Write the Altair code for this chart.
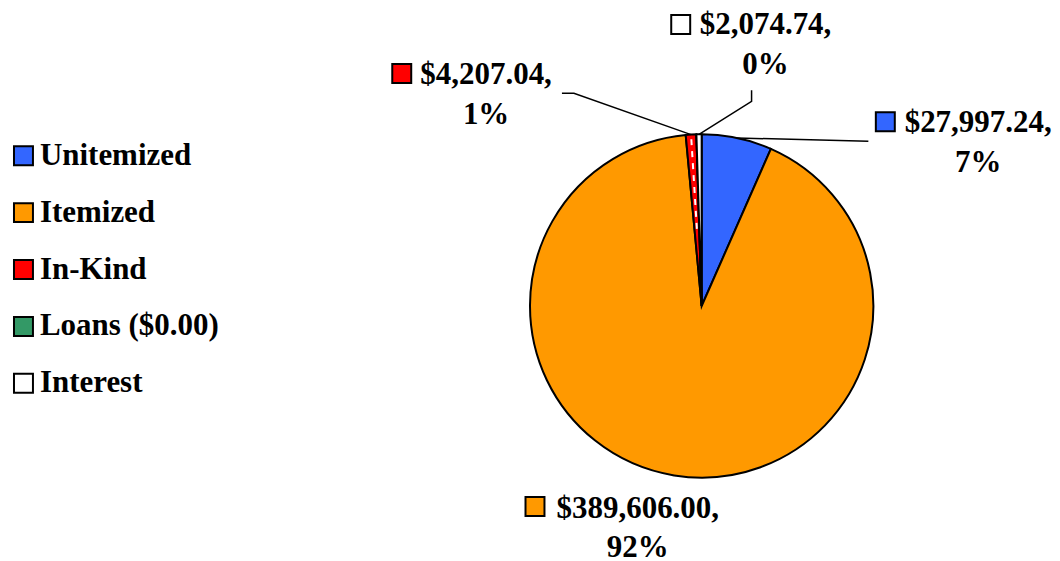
import math
import altair as alt
import pandas as pd

# ---- data ----
categories = ["Unitemized", "Itemized", "In-Kind", "Loans ($0.00)", "Interest"]
amounts = [27997.24, 389606.00, 4207.04, 0.00, 2074.74]
colors = ["#3366FF", "#FF9900", "#FF0000", "#339966", "#FFFFFF"]

# ---- layout (pixels) ----
W, H = 1044, 545
CX, CY = 695, 297          # pie centre inside the view
R = 172                    # pie radius
FONT = "Liberation Serif"
FS = 31

total = sum(amounts)
mids = {}
cum = 0.0
for c, a in zip(categories, amounts):
    mids[c] = (cum + a / 2) / total * 2 * math.pi
    cum += a

# label placement relative to pie centre (x right, y up)
label_layout = {
    "Unitemized": dict(tx=277, ty=174, kx=184, ky=184.5, path=[(167, 165)]),
    "Itemized": dict(tx=-64, ty=-212, kx=-167, ky=-201, path=[]),
    "In-Kind": dict(tx=-216, ty=222, kx=-300.5, ky=233, path=[(-128, 213), (-140, 213)]),
    "Interest": dict(tx=64, ty=272, kx=-21, ky=282, path=[(50, 205), (50, 216)]),
}

df = pd.DataFrame({"category": categories, "amount": amounts, "idx": list(range(len(categories)))})

lab_rows, lead_rows = [], []
for c, a in zip(categories, amounts):
    if c not in label_layout:
        continue
    L = label_layout[c]
    pct = round(a / total * 100)
    lab_rows.append(dict(category=c, text=f"${a:,.2f},\n{pct}%", tx=L["tx"], ty=L["ty"],
                         kx=L["kx"], ky=L["ky"]))
    if L["path"]:
        th = mids[c]
        pts = [(R * math.sin(th), R * math.cos(th))] + L["path"]
        for i, (px, py) in enumerate(pts):
            lead_rows.append(dict(category=c, seq=i, x=px, y=py))
lab_df = pd.DataFrame(lab_rows)
lead_df = pd.DataFrame(lead_rows)

th_ik = mids["In-Kind"]
dash_df = pd.DataFrame({"x": [R * 0.45 * math.sin(th_ik), R * 0.98 * math.sin(th_ik)],
                        "y": [R * 0.45 * math.cos(th_ik), R * 0.98 * math.cos(th_ik)], "seq": [0, 1]})

xscale = alt.Scale(domain=[-CX, W - CX], nice=False, zero=False)
yscale = alt.Scale(domain=[-(H - CY), CY], nice=False, zero=False)
cscale = alt.Scale(domain=categories, range=colors)

pie = alt.Chart(df).mark_arc(outerRadius=R, stroke="black", strokeWidth=2).encode(
    theta=alt.Theta("amount:Q", stack=True),
    order=alt.Order("idx:Q"),
    color=alt.Color(
        "category:N", scale=cscale, sort=categories,
        legend=alt.Legend(
            title=None, orient="none", legendX=0, legendY=131, padding=0,
            symbolType="square", symbolSize=361, symbolStrokeColor="black",
            symbolStrokeWidth=2, symbolOpacity=1,
            labelFont=FONT, labelFontWeight="bold", labelFontSize=FS, labelColor="black",
            labelOffset=1, rowPadding=25, labelLimit=0,
        ),
    ),
    x=alt.X(datum=0, scale=xscale, axis=None),
    y=alt.Y(datum=0, scale=yscale, axis=None),
)

dash = alt.Chart(dash_df).mark_line(color="white", strokeWidth=2, strokeDash=[6, 6]).encode(
    x=alt.X("x:Q", scale=xscale, axis=None),
    y=alt.Y("y:Q", scale=yscale, axis=None),
    order="seq:Q",
)

leaders = alt.Chart(lead_df).mark_line(color="black", strokeWidth=1.5).encode(
    x=alt.X("x:Q", scale=xscale, axis=None),
    y=alt.Y("y:Q", scale=yscale, axis=None),
    detail="category:N",
    order="seq:Q",
)

keys = alt.Chart(lab_df).mark_square(size=361, filled=True, stroke="black", strokeWidth=2, opacity=1).encode(
    x=alt.X("kx:Q", scale=xscale, axis=None),
    y=alt.Y("ky:Q", scale=yscale, axis=None),
    fill=alt.Fill("category:N", scale=cscale, legend=None),
)

labels = alt.Chart(lab_df).mark_text(
    align="center", baseline="alphabetic", lineBreak="\n", lineHeight=40,
    font=FONT, fontSize=FS, fontWeight="bold", color="black",
).encode(
    x=alt.X("tx:Q", scale=xscale, axis=None),
    y=alt.Y("ty:Q", scale=yscale, axis=None),
    text="text:N",
)

chart = alt.layer(pie, dash, leaders, keys, labels).properties(
    width=W, height=H, padding=0
).configure_view(stroke=None)

chart.save("out.html", embed_options={"renderer": "svg", "actions": False})
